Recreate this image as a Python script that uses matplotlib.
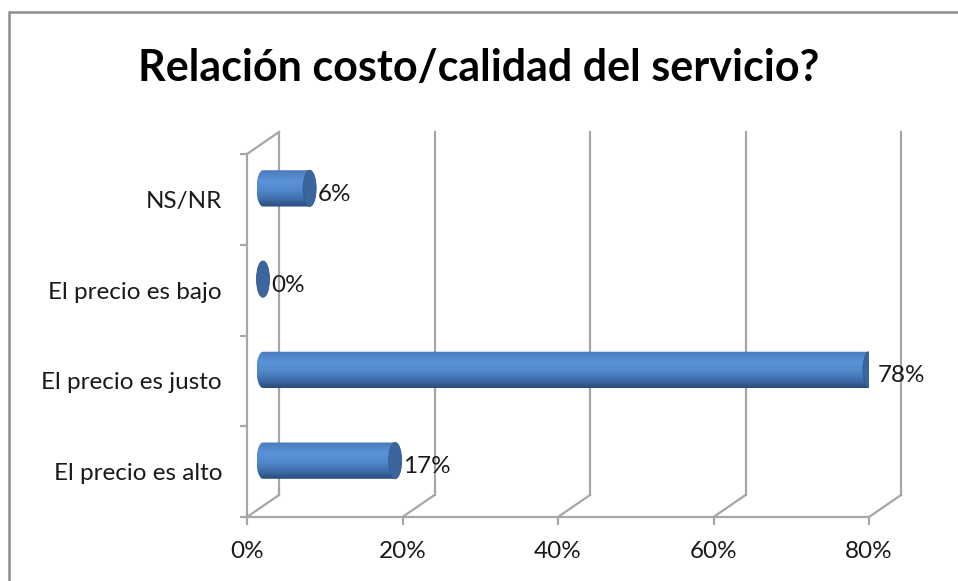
import numpy as np
import matplotlib
matplotlib.use("Agg")
import matplotlib.pyplot as plt
import matplotlib.transforms as mtransforms
from matplotlib.patches import Ellipse, PathPatch, Rectangle
from matplotlib.path import Path
from matplotlib.colors import LinearSegmentedColormap

plt.rcParams['font.family'] = ['Lato', 'DejaVu Sans']

# Data
title = "Relación costo/calidad del servicio?"
categories = ["El precio es alto", "El precio es justo", "El precio es bajo", "NS/NR"]
values = [17, 78, 0, 6]
xticks = [0, 20, 40, 60, 80]

fig = plt.figure(figsize=(9.58, 5.81), dpi=100)
ax = fig.add_axes([247/958, 64/581, 622/958, 363/581])
ax.set_xlim(0, 80)
ax.set_ylim(-0.5, len(categories) - 0.5)
for s in ax.spines.values():
    s.set_visible(False)
ax.patch.set_alpha(0)

grid_c = "#a6a6a6"
lw = 1.6
fs = 17.5
back = ax.transData + mtransforms.ScaledTranslation(0.32, 0.22, fig.dpi_scale_trans)
mid = ax.transData + mtransforms.ScaledTranslation(0.16, 0.11, fig.dpi_scale_trans)
ymin, ymax = -0.5, len(categories) - 0.5
inv = ax.transData.inverted()

# back wall gridlines + floor diagonals
for xv in xticks:
    ax.plot([xv, xv], [ymin, ymax], color=grid_c, lw=lw, transform=back, clip_on=False)
    q = inv.transform([ax.transData.transform((xv, ymin)), back.transform((xv, ymin))])
    ax.plot(q[:, 0], q[:, 1], color=grid_c, lw=lw, clip_on=False)
# side wall top edge
q = inv.transform([ax.transData.transform((0, ymax)), back.transform((0, ymax))])
ax.plot(q[:, 0], q[:, 1], color=grid_c, lw=lw, clip_on=False)
# front axis lines
ax.plot([0, 0], [ymin, ymax], color=grid_c, lw=lw, clip_on=False)
ax.plot([0, 80], [ymin, ymin], color=grid_c, lw=lw, clip_on=False)

# ticks
ax.set_xticks(xticks)
ax.set_xticklabels([f"{v}%" for v in xticks])
ax.set_yticks(np.arange(len(categories) + 1) - 0.5)
ax.set_yticklabels([])
ax.set_yticks(np.arange(len(categories)), minor=True)
ax.set_yticklabels(categories, minor=True)
ax.tick_params(axis='x', length=6, width=lw, color=grid_c, pad=11, labelsize=fs, labelcolor="#1a1a1a")
ax.tick_params(axis='y', which='major', length=5, width=lw, color=grid_c)
ax.tick_params(axis='y', which='minor', length=0, pad=18, labelsize=fs, labelcolor="#1a1a1a")

# cylinders
cmap = LinearSegmentedColormap.from_list("cyl", [
    (0.0, "#4a7bbb"), (0.3, "#5b93d8"), (0.55, "#5088ca"),
    (0.8, "#3d6ca8"), (1.0, "#2a4b78")])
grad = np.linspace(0, 1, 256).reshape(-1, 1)
h = 0.40
a = 6.5 / (622 / 80)
for i, v in enumerate(values):
    y0, y1 = i - h / 2, i + h / 2
    tt = np.linspace(-np.pi / 2, -3 * np.pi / 2, 40)
    verts = [(0, y1), (v, y1), (v, y0), (0, y0)]
    verts += [(a * np.cos(t), i + h / 2 * np.sin(t)) for t in tt]
    clip = PathPatch(Path(verts + [verts[0]]), transform=mid, facecolor="none", edgecolor="none")
    ax.add_patch(clip)
    im = ax.imshow(grad, cmap=cmap, extent=[-a, max(v, 0.01), y0, y1], aspect='auto',
                   interpolation='bilinear', transform=mid, zorder=3)
    im.set_clip_path(clip)
    cap = Ellipse((v, i), 2 * a, h, transform=mid, facecolor="#3a669d",
                  edgecolor="#33598a", lw=0.6, zorder=4)
    ax.add_patch(cap)
    ax.annotate(f"{v}%", (v, i), xytext=(24, 5), textcoords='offset pixels',
                ha='left', va='center', fontsize=fs, color="#1a1a1a", zorder=5)

ax.set_xlim(0, 80)
ax.set_ylim(ymin, ymax)

fig.text(0.5, 1 - 68 / 581, title, ha='center', va='center', fontsize=31, fontweight='bold')
fig.patches.append(Rectangle((9 / 958, -0.1), 1.2, 1 - 12 / 581 + 0.1, transform=fig.transFigure,
                             facecolor="none", edgecolor="#8c8c8c", lw=1.8))

fig.savefig("out.png", dpi=100)
